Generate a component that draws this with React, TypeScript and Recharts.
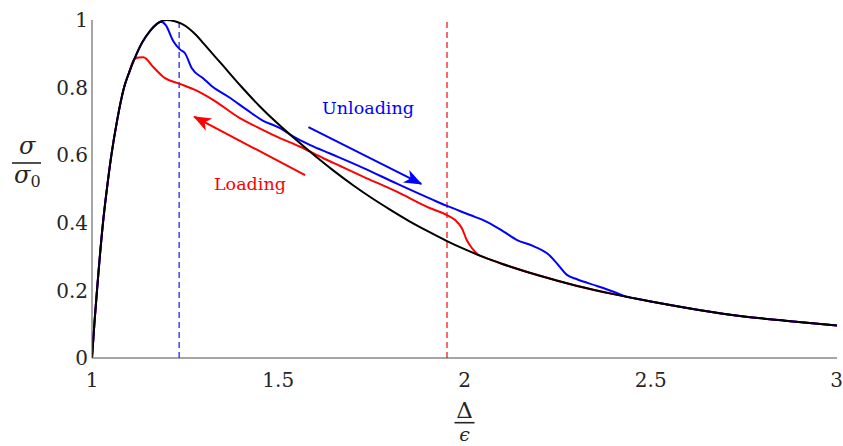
import { LineChart, Line, XAxis, YAxis, ReferenceLine, ReferenceDot } from "recharts";

// bulk curve (black), shared by the rising and tail parts of the other two
const bulkX = [1.0, 1.0063, 1.0134, 1.0295, 1.04, 1.052, 1.067, 1.086, 1.1, 1.114, 1.135, 1.156, 1.176, 1.2, 1.22, 1.24, 1.26, 1.28, 1.3, 1.35, 1.4, 1.45, 1.5, 1.54, 1.6, 1.65, 1.7, 1.75, 1.8, 1.85, 1.9, 1.953, 2.0, 2.05, 2.1, 2.2, 2.3, 2.4, 2.5, 2.625, 2.75, 2.875, 3.0];
const bulkY = [0, 0.1, 0.2, 0.4, 0.5, 0.6, 0.7, 0.8, 0.846, 0.885, 0.934, 0.968, 0.99, 1.0, 0.997, 0.989, 0.975, 0.955, 0.93, 0.867, 0.804, 0.745, 0.692, 0.653, 0.597, 0.553, 0.512, 0.474, 0.439, 0.406, 0.376, 0.346, 0.322, 0.299, 0.279, 0.244, 0.214, 0.189, 0.167, 0.143, 0.123, 0.109, 0.096];

// loading (red), between leaving and rejoining the bulk curve
const loadX = [1.125, 1.138, 1.165, 1.196, 1.236, 1.281, 1.326, 1.398, 1.442, 1.496, 1.559, 1.621, 1.666, 1.729, 1.818, 1.908, 1.953, 1.975, 1.993, 2.006, 2.02, 2.036];
const loadY = [0.889, 0.89, 0.86, 0.828, 0.811, 0.791, 0.763, 0.709, 0.684, 0.655, 0.625, 0.591, 0.568, 0.536, 0.492, 0.443, 0.423, 0.408, 0.384, 0.349, 0.325, 0.306];

// unloading (blue)
const unloadX = [1.185, 1.198, 1.218, 1.236, 1.25, 1.268, 1.299, 1.321, 1.366, 1.416, 1.456, 1.505, 1.541, 1.586, 1.639, 1.729, 1.82, 1.917, 1.953, 2.015, 2.06, 2.105, 2.141, 2.185, 2.23, 2.248, 2.275, 2.302, 2.356, 2.4, 2.436, 2.46];
const unloadY = [0.995, 0.985, 0.938, 0.913, 0.901, 0.857, 0.827, 0.805, 0.773, 0.734, 0.704, 0.68, 0.655, 0.63, 0.605, 0.562, 0.515, 0.467, 0.45, 0.423, 0.403, 0.374, 0.349, 0.331, 0.302, 0.28, 0.246, 0.233, 0.213, 0.196, 0.181, 0.176];

const xTicks = [1, 1.5, 2, 2.5, 3];
const yTicks = [0, 0.2, 0.4, 0.6, 0.8, 1];

const loadLimit = 1.234;
const unloadLimit = 1.953;

const toPoints = (xs: number[], ys: number[]) => xs.map((x, i) => ({ x, y: ys[i] }));

const bulk = toPoints(bulkX, bulkY);
const splice = (xs: number[], ys: number[]) => {
  const lo = xs[0];
  const hi = xs[xs.length - 1];
  return [
    ...bulk.filter((p) => p.x < lo),
    ...toPoints(xs, ys),
    ...bulk.filter((p) => p.x > hi),
  ];
};
const loading = splice(loadX, loadY);
const unloading = splice(unloadX, unloadY);

const AXIS = "#4d4d4d";
const INK = "#262626";
const SERIF = { fontFamily: "'DejaVu Serif', serif" };

const arrow = (color: string, id: string) => (p: any) => (
  <g>
    <defs>
      <marker id={id} markerUnits="userSpaceOnUse" markerWidth={20} markerHeight={16} refX={17} refY={7} orient="auto">
        <path d="M0,0 L18,7 L0,14 L5,7 Z" fill={color} />
      </marker>
    </defs>
    <line x1={p.x1} y1={p.y1} x2={p.x2} y2={p.y2} stroke={color} strokeWidth={2} markerEnd={`url(#${id})`} />
  </g>
);

const note = (text: string, color: string) => (p: any) => (
  <text x={p.cx} y={p.cy} dy="0.35em" textAnchor="middle" fill={color} fontSize={17.5} style={SERIF}>
    {text}
  </text>
);

// fraction labels: one text element each, numerator and denominator as tspans
const xLabel = (props: any) => {
  const vb = props.viewBox || { x: 92, y: 358, width: 745, height: 70 };
  const cx = vb.x + vb.width / 2;
  return (
    <g fill={INK}>
      <line x1={cx - 10} x2={cx + 10} y1={vb.y + 64.7} y2={vb.y + 64.7} stroke={INK} strokeWidth={1.6} />
      <text textAnchor="middle" style={SERIF}>
        <tspan x={cx} y={vb.y + 60} fontSize={23}>Δ</tspan>
        <tspan x={cx} y={vb.y + 83} fontSize={19} fontStyle="italic">ϵ</tspan>
      </text>
    </g>
  );
};

const yLabel = (props: any) => {
  const vb = props.viewBox || { x: 12, y: 20, width: 80, height: 338 };
  return (
    <g fill={INK}>
      <line x1={vb.x} x2={vb.x + 29} y1={vb.y + 143} y2={vb.y + 143} stroke={INK} strokeWidth={1.6} />
      <text style={SERIF} fontStyle="italic" fontSize={24}>
        <tspan x={vb.x + 7} y={vb.y + 134}>σ</tspan>
        <tspan x={vb.x + 2} y={vb.y + 163}>σ</tspan>
        <tspan fontSize={16} fontStyle="normal" dy={4}>0</tspan>
      </text>
    </g>
  );
};

export default function App() {
  return (
    <div style={{ position: "absolute", left: 0, top: 0, background: "#fff" }}>
      <LineChart width={843} height={446} margin={{ top: 20, right: 6, bottom: 18, left: 12 }}>
        <XAxis
          xAxisId="x"
          type="number"
          dataKey="x"
          domain={[1, 3]}
          ticks={xTicks}
          allowDataOverflow
          height={70}
          tickSize={0}
          tickMargin={15}
          tickLine={false}
          axisLine={{ stroke: AXIS }}
          tick={{ fill: INK, fontSize: 20, style: SERIF }}
          label={xLabel}
        />
        <XAxis
          xAxisId="xt"
          type="number"
          dataKey="x"
          domain={[1, 3]}
          ticks={xTicks}
          allowDataOverflow
          mirror
          height={0}
          tick={false}
          axisLine={false}
          tickLine={{ stroke: AXIS }}
          tickSize={8}
        />
        <YAxis
          yAxisId="y"
          type="number"
          domain={[0, 1]}
          ticks={yTicks}
          allowDataOverflow
          width={80}
          tickSize={0}
          tickMargin={4}
          tickLine={false}
          axisLine={{ stroke: AXIS }}
          tick={{ fill: INK, fontSize: 20, style: SERIF }}
          label={yLabel}
        />
        <YAxis
          yAxisId="yt"
          type="number"
          domain={[0, 1]}
          ticks={yTicks}
          allowDataOverflow
          mirror
          width={0}
          tick={false}
          axisLine={false}
          tickLine={{ stroke: AXIS }}
          tickSize={8}
        />

        <ReferenceLine xAxisId="x" yAxisId="y" x={loadLimit} stroke="#4d4dff" strokeWidth={1.6} strokeDasharray="6 4" />
        <ReferenceLine xAxisId="x" yAxisId="y" x={unloadLimit} stroke="#f03c3c" strokeWidth={1.5} strokeDasharray="6 4" />

        <Line xAxisId="x" yAxisId="y" data={loading} dataKey="y" type="monotone" stroke="#ff0000" strokeWidth={2} dot={false} isAnimationActive={false} />
        <Line xAxisId="x" yAxisId="y" data={unloading} dataKey="y" type="monotone" stroke="#0000ff" strokeWidth={2} dot={false} isAnimationActive={false} />
        <Line xAxisId="x" yAxisId="y" data={bulk} dataKey="y" type="monotone" stroke="#000000" strokeWidth={2} dot={false} isAnimationActive={false} />

        <ReferenceLine
          xAxisId="x"
          yAxisId="y"
          segment={[{ x: 1.581, y: 0.683 }, { x: 1.884, y: 0.515 }]}
          shape={arrow("#0000ff", "arrowBlue")}
        />
        <ReferenceLine
          xAxisId="x"
          yAxisId="y"
          segment={[{ x: 1.572, y: 0.541 }, { x: 1.274, y: 0.714 }]}
          shape={arrow("#ff0000", "arrowRed")}
        />
        <ReferenceDot xAxisId="x" yAxisId="y" x={1.741} y={0.741} r={0} shape={note("Unloading", "#0000ff")} />
        <ReferenceDot xAxisId="x" yAxisId="y" x={1.424} y={0.515} r={0} shape={note("Loading", "#ff0000")} />
      </LineChart>
    </div>
  );
}
